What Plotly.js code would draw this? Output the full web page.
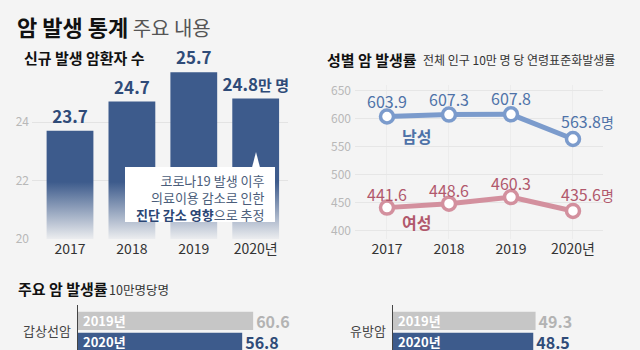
<!DOCTYPE html>
<html>
<head>
<meta charset="utf-8">
<script src="https://cdn.plot.ly/plotly-3.0.1.min.js"></script>
<style>
  html, body { margin: 0; padding: 0; background: #f4f4f4; }
  #chart { width: 640px; height: 350px; }
</style>
</head>
<body>
<div id="chart"></div>
<script>
// ---- data ----
const years = ['2017', '2018', '2019', '2020년'];
const newCases = [23.7, 24.7, 25.7, 24.8];          // 만 명
const caseUnit = ['', '', '', '만 명'];
const maleRate = [603.9, 607.3, 607.8, 563.8];       // 10만 명 당
const femaleRate = [441.6, 448.6, 460.3, 435.6];
const rateUnit = ['', '', '', '명'];
const sexLabels = ['남성', '여성'];
const cancerTypes = ['갑상선암', '유방암'];
const rate2019 = [60.6, 49.3];
const rate2020 = [56.8, 48.5];
const compareLabels = ['2019년', '2020년'];

// ---- styles ----
const FONT = "'Noto Sans CJK KR', 'Noto Sans', sans-serif";
const BG = '#f4f4f4';
const NAVY = '#3d5b8c';
const GRAYBAR = '#c6c6c6';
const MALE_LINE = '#7b9bcc', MALE_TXT = '#4e72a8';
const FEMALE_LINE = '#d3909e', FEMALE_TXT = '#b1586c';
const W = 640, H = 350;
const px = v => v / W, py = v => 1 - v / H;

const traces = [];
// top-left bar chart
traces.push({
  type: 'bar', x: years, y: newCases, xaxis: 'x', yaxis: 'y',
  marker: { color: NAVY },
  text: newCases.map((v, i) => '<b>' + v.toFixed(1) + (caseUnit[i] ? '<span style="font-size:15px">' + caseUnit[i] + '</span>' : '') + '</b>'),
  textposition: 'outside', textfont: { size: 17, color: '#2f4b78', family: FONT },
  cliponaxis: false, constraintext: 'none', hoverinfo: 'skip'
});
// right line chart
[[maleRate, MALE_LINE], [femaleRate, FEMALE_LINE]].forEach(([vals, col]) => {
  traces.push({
    type: 'scatter', mode: 'lines+markers', x: years, y: vals, xaxis: 'x2', yaxis: 'y2',
    line: { color: col, width: 5 },
    marker: { symbol: 'circle', size: 13, color: '#ffffff', line: { color: col, width: 3.5 } },
    cliponaxis: false, hoverinfo: 'skip'
  });
});
// bottom horizontal bars
const annotations = [];
cancerTypes.forEach((c, i) => {
  const xa = i === 0 ? 'x3' : 'x4', ya = i === 0 ? 'y3' : 'y4';
  const series = [[rate2019[i], GRAYBAR, '#b3b3b3', -0.3275], [rate2020[i], NAVY, '#2f4b78', 0.0225]];
  series.forEach(([v, col, tcol, off], k) => {
    traces.push({
      type: 'bar', orientation: 'h', x: [v], y: [0], xaxis: xa, yaxis: ya,
      offset: off, width: 0.305, marker: { color: col },
      text: ['<b>' + v.toFixed(1) + '</b>'], textposition: 'outside',
      textfont: { size: 16, color: tcol, family: FONT },
      cliponaxis: false, constraintext: 'none', textangle: 0, hoverinfo: 'skip'
    });
    annotations.push({
      xref: xa, yref: ya, x: 0, y: off + 0.1525, xanchor: 'left', yanchor: 'middle', xshift: 3,
      text: '<b>' + compareLabels[k] + '</b>', showarrow: false,
      font: { size: 13, color: '#ffffff', family: FONT }
    });
  });
});

// line labels (x given as category index: numeric-looking category names are read as numbers)
years.forEach((yr, i) => {
  const last = i === years.length - 1;
  annotations.push({
    xref: 'x2', yref: 'y2', x: i, y: maleRate[i], yshift: last ? 18 : 16, xshift: last ? 15 : 0,
    text: maleRate[i].toFixed(1) + (rateUnit[i] ? '<span style="font-size:14px">' + rateUnit[i] + '</span>' : ''),
    showarrow: false, font: { size: 16, color: MALE_TXT, family: FONT }
  });
  annotations.push({
    xref: 'x2', yref: 'y2', x: i, y: femaleRate[i], yshift: last ? 17 : 14, xshift: last ? 15 : 0,
    text: femaleRate[i].toFixed(1) + (rateUnit[i] ? '<span style="font-size:14px">' + rateUnit[i] + '</span>' : ''),
    showarrow: false, font: { size: 16, color: FEMALE_TXT, family: FONT }
  });
});
annotations.push({
  xref: 'x2', yref: 'y2', x: 0, y: maleRate[0], xshift: 30, yshift: -19,
  text: '<b>' + sexLabels[0] + '</b>', showarrow: false, font: { size: 16, color: MALE_TXT, family: FONT }
});
annotations.push({
  xref: 'x2', yref: 'y2', x: 0, y: femaleRate[0], xshift: 30, yshift: -14,
  text: '<b>' + sexLabels[1] + '</b>', showarrow: false, font: { size: 16, color: FEMALE_TXT, family: FONT }
});

// section headings
annotations.push(
  { xref: 'paper', yref: 'paper', x: px(22), y: py(58), xanchor: 'left', yanchor: 'middle', showarrow: false,
    text: '<b>신규 발생 암환자 수</b>', font: { size: 15, color: '#111', family: FONT } },
  { xref: 'paper', yref: 'paper', x: px(325), y: py(59), xanchor: 'left', yanchor: 'middle', showarrow: false,
    text: '<b>성별 암 발생률</b>', font: { size: 15, color: '#111', family: FONT } },
  { xref: 'paper', yref: 'paper', x: px(421), y: py(59), xanchor: 'left', yanchor: 'middle', showarrow: false,
    text: '전체 인구 10만 명 당 연령표준화발생률', font: { size: 12, color: '#333', family: FONT } },
  { xref: 'paper', yref: 'paper', x: px(16), y: py(288), xanchor: 'left', yanchor: 'middle', showarrow: false,
    text: '<b>주요 암 발생률</b>', font: { size: 15, color: '#111', family: FONT } },
  { xref: 'paper', yref: 'paper', x: px(107), y: py(289), xanchor: 'left', yanchor: 'middle', showarrow: false,
    text: '10만명당명', font: { size: 12.5, color: '#333', family: FONT } },
  // callout text
  { xref: 'paper', yref: 'paper', x: px(266), y: py(197), xanchor: 'right', yanchor: 'middle', align: 'right',
    showarrow: false,
    text: '코로나19 발생 이후<br>의료이용 감소로 인한<br><span style="color:#2b4674"><b>진단 감소 영향</b></span>으로 추정',
    font: { size: 13, color: '#4b5d7a', family: FONT } }
);

const gradSvg = "<svg xmlns='http://www.w3.org/2000/svg' width='10' height='10' viewBox='0 0 10 10' preserveAspectRatio='none'>" +
  "<defs><linearGradient id='g' x1='0' y1='0' x2='0' y2='1'>" +
  "<stop offset='0' stop-color='" + BG + "' stop-opacity='0'/>" +
  "<stop offset='1' stop-color='" + BG + "' stop-opacity='0.97'/>" +
  "</linearGradient></defs><rect width='10' height='10' fill='url(#g)'/></svg>";

const layout = {
  width: W, height: H,
  margin: { l: 0, r: 0, t: 0, b: 0 },
  paper_bgcolor: BG, plot_bgcolor: BG,
  font: { family: FONT, color: '#333' },
  showlegend: false,
  barmode: 'overlay', bargap: 0.244,
  title: {
    text: '<b>암 발생 통계</b><span style="color:#555;font-size:20px"> 주요 내용</span>',
    x: px(17), xanchor: 'left', y: py(28), yanchor: 'middle',
    font: { size: 22, color: '#111', family: FONT }
  },
  xaxis: {
    domain: [px(32), px(288)], anchor: 'y', type: 'category', range: [-0.614, 3.522],
    showgrid: false, zeroline: false, showline: false, ticks: '',
    tickfont: { size: 14, color: '#333', family: FONT }
  },
  yaxis: {
    domain: [py(239), py(63.5)], anchor: 'x', range: [20, 26],
    tickvals: [20, 22, 24], showgrid: true, gridcolor: '#e3e3e3', gridwidth: 1,
    zeroline: false, showline: false, ticks: '', ticklabelstandoff: 2,
    tickfont: { size: 12, color: '#b8b8b8', family: FONT }
  },
  xaxis2: {
    domain: [px(355), px(603)], anchor: 'y2', type: 'category', range: [-0.516, 3.484],
    showgrid: true, gridcolor: '#ececec', zeroline: false, showline: false, ticks: '',
    tickfont: { size: 14, color: '#333', family: FONT }
  },
  yaxis2: {
    domain: [py(239), py(85)], anchor: 'x2', range: [385.7, 660],
    tickvals: [400, 450, 500, 550, 600, 650], showgrid: true, gridcolor: '#e6e6e6',
    zeroline: false, showline: false, ticks: '', ticklabelstandoff: 3,
    tickfont: { size: 12, color: '#b8b8b8', family: FONT }
  },
  xaxis3: { domain: [px(78), px(300)], anchor: 'y3', range: [0, 76.8], visible: false },
  yaxis3: {
    domain: [0, py(305)], anchor: 'x3', range: [0.311, -0.439],
    tickvals: [0], ticktext: [cancerTypes[0]], showgrid: false, zeroline: false,
    showline: true, linecolor: '#444', linewidth: 1.5, ticks: '', ticklabelstandoff: 3,
    tickfont: { size: 13, color: '#444', family: FONT }
  },
  xaxis4: { domain: [px(393), px(620)], anchor: 'y4', range: [0, 78.5], visible: false },
  yaxis4: {
    domain: [0, py(305)], anchor: 'x4', range: [0.311, -0.439],
    tickvals: [0], ticktext: [cancerTypes[1]], showgrid: false, zeroline: false,
    showline: true, linecolor: '#444', linewidth: 1.5, ticks: '', ticklabelstandoff: 3,
    tickfont: { size: 13, color: '#444', family: FONT }
  },
  images: [{
    source: 'data:image/svg+xml;charset=utf-8,' + encodeURIComponent(gradSvg),
    xref: 'paper', yref: 'paper', x: px(30), y: py(182), sizex: px(262) , sizey: 58 / H,
    xanchor: 'left', yanchor: 'top', sizing: 'stretch', layer: 'above'
  }],
  shapes: [
    { type: 'rect', xref: 'paper', yref: 'paper', x0: px(125), x1: px(275), y0: py(222), y1: py(167),
      fillcolor: '#ffffff', line: { width: 0 }, layer: 'above' },
    { type: 'path', xref: 'paper', yref: 'paper',
      path: 'M ' + px(252) + ' ' + py(167.5) + ' L ' + px(256) + ' ' + py(152) + ' L ' + px(260) + ' ' + py(167.5) + ' Z',
      fillcolor: '#ffffff', line: { width: 0 }, layer: 'above' }
  ],
  annotations: annotations
};

Plotly.newPlot('chart', traces, layout, { displayModeBar: false, staticPlot: true });
</script>
</body>
</html>
